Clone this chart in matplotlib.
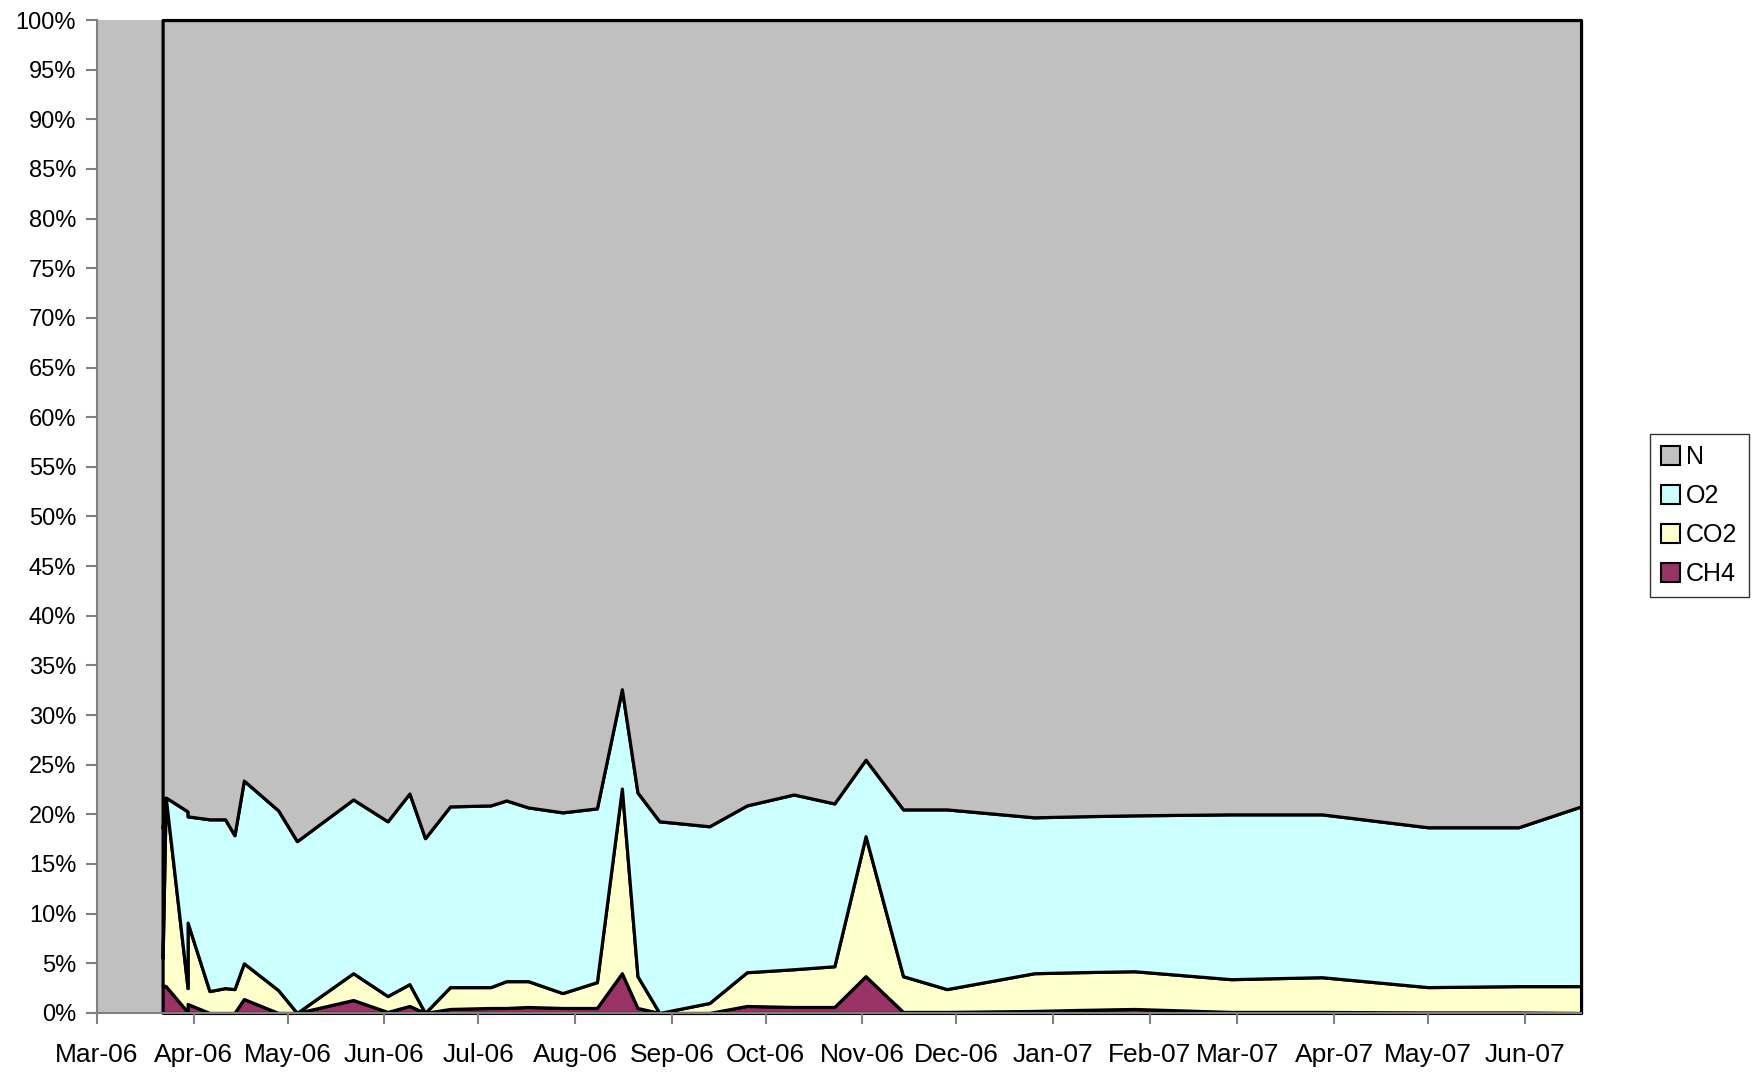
import numpy as np
import pandas as pd
import matplotlib
matplotlib.use('Agg')
import matplotlib.pyplot as plt
import matplotlib.dates as mdates
from matplotlib.patches import Patch

plt.rcParams['font.family'] = ['Liberation Sans', 'DejaVu Sans']

# Gas composition samples (percent of total)
dates = ['2006-03-22', '2006-03-23', '2006-03-30', '2006-03-30', '2006-04-06',
         '2006-04-11', '2006-04-14', '2006-04-17', '2006-04-28', '2006-05-04',
         '2006-05-22', '2006-06-02', '2006-06-09', '2006-06-14', '2006-06-22',
         '2006-07-05', '2006-07-10', '2006-07-17', '2006-07-28', '2006-08-08',
         '2006-08-16', '2006-08-21', '2006-08-28', '2006-09-13', '2006-09-25',
         '2006-10-10', '2006-10-23', '2006-11-02', '2006-11-14', '2006-11-28',
         '2006-12-26', '2007-01-09', '2007-01-27', '2007-02-27', '2007-03-28',
         '2007-05-01', '2007-05-30', '2007-06-19']

ch4 = [2.8, 2.7, 0.1, 0.9, 0.0, 0.0, 0.0, 1.4, 0.0, 0.0,
       1.3, 0.1, 0.7, 0.0, 0.4, 0.5, 0.5, 0.6, 0.5, 0.5,
       4.0, 0.5, 0.0, 0.0, 0.7, 0.6, 0.6, 3.7, 0.1, 0.1,
       0.2, 0.3, 0.4, 0.1, 0.1, 0.05, 0.05, 0.0]

co2 = [2.7, 19.0, 2.4, 8.2, 2.2, 2.5, 2.4, 3.6, 2.3, 0.0,
       2.7, 1.6, 2.2, 0.0, 2.2, 2.1, 2.7, 2.6, 1.5, 2.6,
       18.6, 3.2, 0.0, 1.0, 3.4, 3.8, 4.1, 14.1, 3.6, 2.3,
       3.8, 3.8, 3.8, 3.3, 3.5, 2.55, 2.65, 2.7]

o2 = [13.1, 0.0, 17.8, 10.7, 17.3, 17.0, 15.5, 18.4, 18.1, 17.3,
      17.5, 17.6, 19.2, 17.6, 18.2, 18.3, 18.2, 17.5, 18.2, 17.5,
      10.0, 18.5, 19.3, 17.8, 16.8, 17.6, 16.4, 7.7, 16.8, 18.1,
      15.7, 15.7, 15.7, 16.6, 16.4, 16.1, 16.0, 18.1]

n = [81.4, 78.3, 79.7, 80.2, 80.5, 80.5, 82.1, 76.6, 79.6, 82.7,
     78.5, 80.7, 77.9, 82.4, 79.2, 79.1, 78.6, 79.3, 79.8, 79.4,
     67.4, 77.8, 80.7, 81.2, 79.1, 78.0, 78.9, 74.5, 79.5, 79.5,
     80.3, 80.2, 80.1, 80.0, 80.0, 81.3, 81.3, 79.2]

labels = ['CH4', 'CO2', 'O2', 'N']
colors = ['#993366', '#FFFFCC', '#CCFFFF', '#C0C0C0']

x = pd.to_datetime(dates)
stack = np.array([ch4, co2, o2, n])
stack = stack / stack.sum(axis=0) * 100  # 100% stacked

fig = plt.figure(figsize=(17.54, 10.72), dpi=100)
ax = fig.add_axes([0.0553, 0.0551, 0.8461, 0.9262])
ax.set_facecolor('#C0C0C0')

polys = ax.stackplot(x, stack, colors=colors, edgecolor='black', linewidth=2.3)
for p in polys:
    p.set_clip_on(False)

ax.set_xlim(pd.Timestamp('2006-03-01'), x[-1])
ax.set_ylim(0, 100)

ax.set_yticks(np.arange(0, 101, 5))
ax.yaxis.set_major_formatter(plt.FuncFormatter(lambda v, _: '%d%%' % v))
ax.xaxis.set_major_locator(mdates.MonthLocator())
ax.xaxis.set_major_formatter(mdates.DateFormatter('%b-%y'))

for side in ['top', 'right']:
    ax.spines[side].set_visible(False)
for side in ['left', 'bottom']:
    ax.spines[side].set_color('#808080')
    ax.spines[side].set_linewidth(1.5)

ax.tick_params(axis='both', direction='out', length=8, width=1.5, color='#808080',
               labelcolor='black')
ax.tick_params(axis='x', pad=14, labelsize=19)
ax.tick_params(axis='y', pad=7, labelsize=17)

handles = [Patch(facecolor=c, edgecolor='black', linewidth=1.5) for c in colors[::-1]]
leg = fig.legend(handles, labels[::-1], loc='center left', bbox_to_anchor=(0.9405, 0.519),
                 fontsize=18, frameon=True, fancybox=False, handlelength=0.75, handleheight=0.75,
                 handletextpad=0.25, labelspacing=0.6, borderpad=0.45, borderaxespad=0)
leg.get_frame().set_edgecolor('black')
leg.get_frame().set_linewidth(1.0)

fig.savefig('out.png', dpi=100)
